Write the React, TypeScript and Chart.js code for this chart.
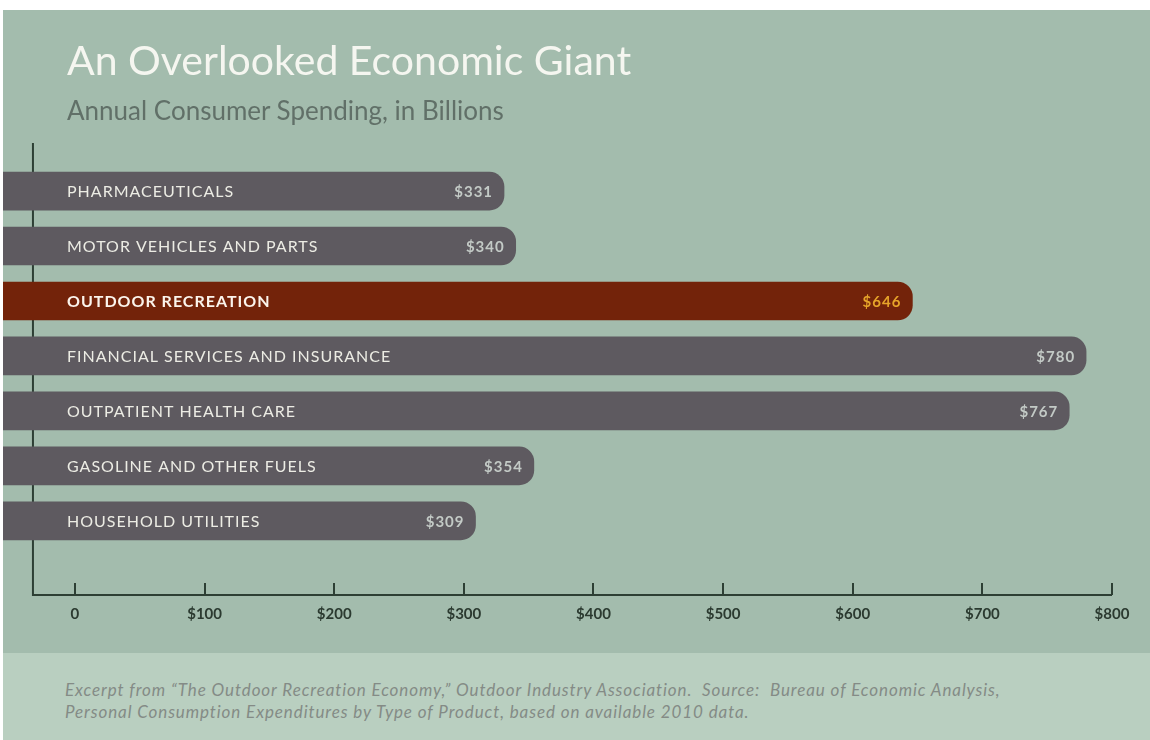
import React, { useEffect, useRef } from "react";
import { Chart, registerables } from "chart.js";

Chart.register(...registerables);

const CATEGORIES = [
  "PHARMACEUTICALS",
  "MOTOR VEHICLES AND PARTS",
  "OUTDOOR RECREATION",
  "FINANCIAL SERVICES AND INSURANCE",
  "OUTPATIENT HEALTH CARE",
  "GASOLINE AND OTHER FUELS",
  "HOUSEHOLD UTILITIES",
];
const SPENDING = [331, 340, 646, 780, 767, 354, 309];
const VALUE_LABELS = ["$331", "$340", "$646", "$780", "$767", "$354", "$309"];
const HIGHLIGHT = "OUTDOOR RECREATION";
const X_TICKS = [0, 100, 200, 300, 400, 500, 600, 700, 800];
const X_TICK_LABELS = ["0", "$100", "$200", "$300", "$400", "$500", "$600", "$700", "$800"];

const TITLE = "An Overlooked Economic Giant";
const SUBTITLE = "Annual Consumer Spending, in Billions";
const FOOTER_1 =
  "Excerpt from \u201CThe Outdoor Recreation Economy,\u201D Outdoor Industry Association.  Source:  Bureau of Economic Analysis,";
const FOOTER_2 =
  "Personal Consumption Expenditures by Type of Product, based on available 2010 data.";

const X_MIN = -55.5;
const X_MAX = 829.3;
const AXIS_X = -32.4;
const Y_MIN = -0.875;
const Y_MAX = 7.35;

const GREEN = "#a3bcad";
const FOOTER_BG = "#b9cfc0";
const BAR_GRAY = "#5e5a60";
const BAR_HIGHLIGHT = "#73230a";
const AXIS_COLOR = "#2d3f34";
const FONT = "Lato, 'Open Sans', sans-serif";

const overlayPlugin = {
  id: "overlay",
  beforeDatasetsDraw(chart: any) {
    const { ctx, chartArea, scales } = chart;
    const xs = scales.x;
    const ax = xs.getPixelForValue(AXIS_X);
    const bottom = chartArea.bottom;
    ctx.save();
    ctx.strokeStyle = AXIS_COLOR;
    ctx.lineWidth = 2;
    ctx.beginPath();
    ctx.moveTo(ax, chartArea.top);
    ctx.lineTo(ax, bottom);
    ctx.lineTo(xs.getPixelForValue(X_TICKS[X_TICKS.length - 1]), bottom);
    ctx.stroke();
    X_TICKS.forEach((v) => {
      const px = Math.round(xs.getPixelForValue(v));
      ctx.beginPath();
      ctx.moveTo(px, bottom);
      ctx.lineTo(px, bottom - 12);
      ctx.stroke();
    });
    ctx.restore();
  },
  afterDatasetsDraw(chart: any) {
    const { ctx, chartArea } = chart;
    const meta = chart.getDatasetMeta(0);
    ctx.save();
    ctx.textBaseline = "middle";
    meta.data.forEach((bar: any, i: number) => {
      const hi = CATEGORIES[i] === HIGHLIGHT;
      (ctx as any).letterSpacing = "1px";
      ctx.textAlign = "left";
      ctx.font = `${hi ? "bold" : "normal"} 16px ${FONT}`;
      ctx.fillStyle = hi ? "#fbf4ec" : "#ecece4";
      ctx.fillText(CATEGORIES[i], chartArea.left + 64, bar.y + 1);
      ctx.textAlign = "right";
      ctx.font = `bold 15px ${FONT}`;
      ctx.fillStyle = hi ? "#e6a42a" : "#c3cac6";
      ctx.fillText(VALUE_LABELS[i], bar.x - 11, bar.y + 1);
    });
    ctx.restore();
  },
};

export default function App() {
  const canvasRef = useRef<HTMLCanvasElement | null>(null);

  useEffect(() => {
    if (!canvasRef.current) return;
    const chart = new Chart(canvasRef.current, {
      type: "bar",
      data: {
        datasets: [
          {
            data: SPENDING.map((v, i) => ({ x: v, y: i })) as any,
            base: X_MIN,
            backgroundColor: CATEGORIES.map((c) => (c === HIGHLIGHT ? BAR_HIGHLIGHT : BAR_GRAY)),
            borderWidth: 0,
            borderRadius: 15,
            borderSkipped: "start",
            barThickness: 38,
          } as any,
        ],
      },
      options: {
        indexAxis: "y",
        animation: false,
        responsive: true,
        maintainAspectRatio: false,
        layout: { padding: { top: 133, bottom: 20, left: 0, right: 0 } },
        plugins: {
          legend: { display: false },
          tooltip: { enabled: false },
        },
        scales: {
          x: {
            type: "linear",
            min: X_MIN,
            max: X_MAX,
            offset: false,
            grid: { display: false, drawTicks: false },
            border: { display: false },
            afterBuildTicks: (scale: any) => {
              scale.ticks = X_TICKS.map((v) => ({ value: v }));
            },
            ticks: {
              padding: 10,
              autoSkip: false,
              maxRotation: 0,
              color: "#2b3a30",
              font: { family: FONT, size: 15, weight: "bold" },
              callback: (v: any) => {
                const idx = X_TICKS.indexOf(Number(v));
                return idx >= 0 ? X_TICK_LABELS[idx] : "";
              },
            },
          },
          y: {
            type: "linear",
            min: Y_MIN,
            max: Y_MAX,
            offset: false,
            reverse: true,
            display: false,
          },
        },
      },
      plugins: [overlayPlugin],
    });
    return () => chart.destroy();
  }, []);

  return (
    <div
      style={{
        position: "absolute",
        left: 0,
        top: 0,
        width: 1150,
        height: 740,
        background: "#ffffff",
        overflow: "hidden",
        fontFamily: FONT,
      }}
    >
      <div
        style={{
          position: "absolute",
          left: 3,
          top: 10,
          width: 1147,
          height: 643,
          background: GREEN,
        }}
      >
        <div style={{ position: "absolute", left: 0, top: 0, width: 1147, height: 643 }}>
          <canvas ref={canvasRef} />
        </div>
        <div
          style={{
            position: "absolute",
            left: 64,
            top: 25,
            fontSize: 41,
            lineHeight: "49px",
            color: "#f5f6f0",
            fontWeight: 400,
            whiteSpace: "nowrap",
          }}
        >
          {TITLE}
        </div>
        <div
          style={{
            position: "absolute",
            left: 64,
            top: 85,
            fontSize: 26,
            lineHeight: "31px",
            color: "#617068",
            fontWeight: 400,
            whiteSpace: "nowrap",
          }}
        >
          {SUBTITLE}
        </div>
      </div>
      <div
        style={{
          position: "absolute",
          left: 3,
          top: 653,
          width: 1147,
          height: 87,
          background: FOOTER_BG,
        }}
      >
        <div
          style={{
            position: "absolute",
            left: 62,
            top: 26,
            fontSize: 17,
            lineHeight: "22px",
            letterSpacing: "0.9px",
            fontStyle: "italic",
            color: "#848b86",
            whiteSpace: "pre",
          }}
        >
          {FOOTER_1 + "\n" + FOOTER_2}
        </div>
      </div>
    </div>
  );
}
